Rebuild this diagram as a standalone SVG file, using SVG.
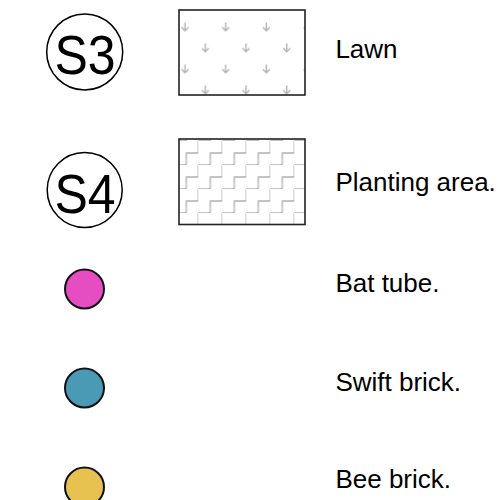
<svg xmlns="http://www.w3.org/2000/svg" width="503" height="500" viewBox="0 0 503 500">
<style>
.lbl{font-family:"Liberation Sans",Arial,sans-serif;font-size:26px;fill:#000}
.tag{font-family:"Liberation Sans",Arial,sans-serif;font-size:50px;fill:#000;text-anchor:middle}
.ring{fill:#fff;stroke:#000;stroke-width:1.5}
.box{stroke:#222;stroke-width:1.6}
.dot{stroke:#111;stroke-width:2}
.hatch{fill:none;stroke:#b0b0b0;stroke-width:1.3}
</style>
<defs>
<g id="arr" class="hatch"><path d="M0,-4.5V3.8M-3.5,0.3L0,3.8L3.5,0.3"/></g>
<pattern id="lawn" patternUnits="userSpaceOnUse" x="174.8" y="16.5" width="40.7" height="42">
<use href="#arr" x="10.2" y="10.5"/>
<use href="#arr" x="30.55" y="31.5"/>
</pattern>
<pattern id="plant" patternUnits="userSpaceOnUse" x="174.3" y="141" width="24" height="24">
<path class="hatch" d="M0,24H12V12H24V0"/>
</pattern>
</defs>
<g id="s3">
<circle class="ring" cx="84.7" cy="52" r="38"/>
<text class="tag" transform="translate(85,73.8) scale(1,1.12)">S3</text>
</g>
<g id="s4">
<circle class="ring" cx="84.7" cy="190" r="37.5"/>
<text class="tag" transform="translate(85,212.8) scale(1,1.12)">S4</text>
</g>
<g id="lawn-swatch">
<rect x="179" y="10" width="126" height="85" fill="#fff"/>
<rect class="box" x="179" y="10" width="126" height="85" fill="url(#lawn)"/>
</g>
<g id="planting-swatch">
<rect x="179" y="139" width="126" height="85.5" fill="#fff"/>
<rect class="box" x="179" y="139" width="126" height="85.5" fill="url(#plant)"/>
</g>
<g id="bat"><circle class="dot" cx="84.5" cy="289" r="19.5" fill="#e64dc3"/></g>
<g id="swift"><circle class="dot" cx="84.5" cy="388" r="19.5" fill="#4a9ab5"/></g>
<g id="bee"><circle class="dot" cx="84.5" cy="487" r="19.5" fill="#e8c250"/></g>
<g id="labels">
<text class="lbl" x="335.4" y="58.3">Lawn</text>
<text class="lbl" x="335.4" y="191">Planting area.</text>
<text class="lbl" x="335.4" y="291.7">Bat tube.</text>
<text class="lbl" x="335.4" y="391">Swift brick.</text>
<text class="lbl" x="335.4" y="488.3">Bee brick.</text>
</g>
<g id="connectors"/>
</svg>
